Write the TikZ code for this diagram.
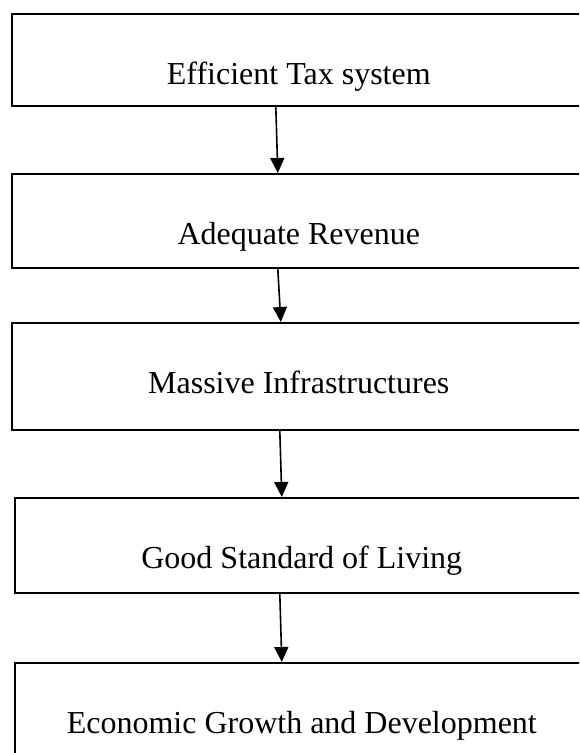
\documentclass[tikz,border=0pt]{standalone}
\usepackage{fontspec}
\setmainfont{Liberation Serif}
\usetikzlibrary{arrows.meta}

\tikzset{
    stage/.style={draw, rectangle, line width=1.6pt, anchor=north west,
        minimum width=574pt, inner xsep=0pt, inner ysep=0pt,
        text height=71pt, font=\fontsize{32}{38}\selectfont},
    flow/.style={line width=1.6pt, -{Triangle[width=14pt,length=15pt]}}
}

\begin{document}
\begin{tikzpicture}[x=1pt,y=-1pt]
    %% Page
    \useasboundingbox (0,0) rectangle (579,753);
    \clip (0,0) rectangle (579,753);

    %% Stages
    \node[stage, text depth=21pt] (tax) at (11,13) {Efficient Tax system};
    \node[stage, text depth=23pt] (revenue) at (11,173) {Adequate Revenue};
    \node[stage, text depth=36pt] (infra) at (11,322) {Massive Infrastructures};
    \node[stage, text depth=24pt] (living) at (14,497) {Good Standard of Living};
    \node[stage, text depth=40pt] (growth) at (14,662) {Economic Growth and Development};

    %% Flow
    \foreach \a/\b/\sa/\sb in {tax/revenue/-23/-21, revenue/infra/-21/-18,
                               infra/living/-19/-20, living/growth/-22/-20}
    {
        \draw[flow] ([xshift=\sa pt]\a.south) -- ([xshift=\sb pt]\b.north);
    }
\end{tikzpicture}
\end{document}
